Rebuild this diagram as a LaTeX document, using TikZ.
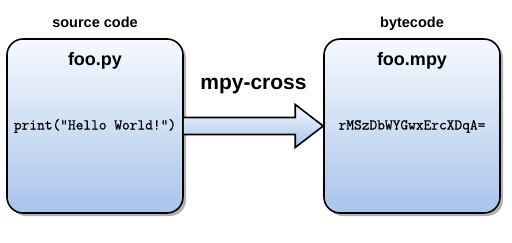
\documentclass[tikz,border=0pt]{standalone}
\usepackage{fontspec}
\setmainfont{Liberation Sans}
\newfontfamily\codefont[FakeBold=0.8]{Latin Modern Mono}
\usetikzlibrary{calc,shadows,positioning}
\definecolor{topblue}{RGB}{246,249,254}
\definecolor{botblue}{RGB}{169,196,235}
\begin{document}
\begin{tikzpicture}[
    x=1pt, y=1pt,
    filebox/.style={draw=black, line width=1.6pt, rounded corners=16pt,
        minimum width=176pt, minimum height=174pt, inner sep=0pt,
        top color=topblue, bottom color=botblue,
        drop shadow={shadow xshift=3pt, shadow yshift=-3pt, fill=black, opacity=0.3}},
    caption/.style={anchor=base, font=\bfseries\fontsize{14.5}{16}\selectfont},
    filename/.style={anchor=base, font=\bfseries\fontsize{18}{20}\selectfont},
    code/.style={anchor=base, font=\codefont\fontsize{15}{17}\selectfont},
    bigarrow/.style={draw=black, line width=1.6pt, line join=miter,
        top color=topblue, bottom color=botblue}
]
\useasboundingbox (0,0) rectangle (512,242);
\node[filebox] (src) at (95,116) {};
\node[filebox] (dst) at (412,116) {};
\node[caption] (srclabel) at ($(src.north)+(0,10.5)$) {source code};
\node[caption] (dstlabel) at ($(dst.north)+(0,10.5)$) {bytecode};
\node[filename] (srcname) at ($(src.north)+(0,-27.5)$) {foo.py};
\node[filename] (dstname) at ($(dst.north)+(0,-27.5)$) {foo.mpy};
\node[code] (srccode) at ($(src.center)+(0,-3.5)$) {print("Hello World!")};
\node[code] (dstcode) at ($(dst.center)+(0,-3.5)$) {rMSzDbWYGwxErcXDqA=};
% compiler arrow
\draw[bigarrow] ($(src.east)+(0,8.5)$) -- ($(dst.west)+(-28,8.5)$)
    -- ($(dst.west)+(-28,21.5)$) -- (dst.west)
    -- ($(dst.west)+(-28,-21.5)$) -- ($(dst.west)+(-28,-8.5)$)
    -- ($(src.east)+(0,-8.5)$);
\path (src.east) -- (dst.west)
    node[midway, yshift=37pt, anchor=base, font=\bfseries\fontsize{21}{24}\selectfont] (tool) {mpy-cross};
\end{tikzpicture}
\end{document}
